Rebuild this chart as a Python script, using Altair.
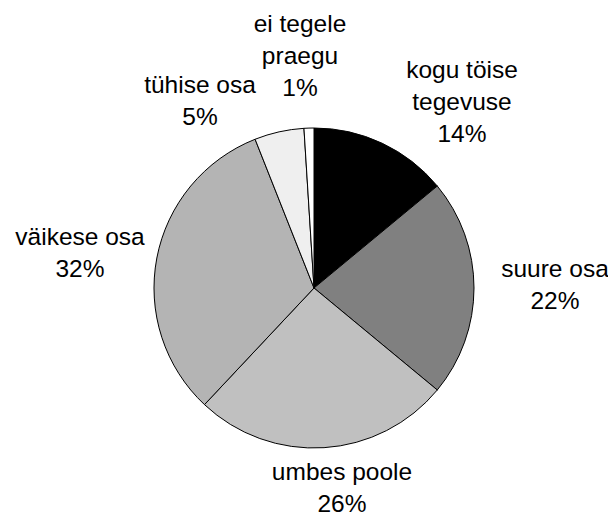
import altair as alt
import pandas as pd

# Data
categories = ["kogu töise tegevuse", "suure osa", "umbes poole",
              "väikese osa", "tühise osa", "ei tegele praegu"]
label_lines = [["kogu töise", "tegevuse"], ["suure osa"], ["umbes poole"],
               ["väikese osa"], ["tühise osa"], ["ei tegele", "praegu"]]
values = [14, 22, 26, 32, 5, 1]
colors = ["#000000", "#808080", "#c0c0c0", "#b4b4b4", "#efefef", "#ffffff"]

# label anchor (chart coords: centre x, first-line baseline y)
label_x = [454, 547, 334, 72, 192, 292]
label_y = [70, 269, 472, 237, 85, 24]

df = pd.DataFrame({
    "cat": categories,
    "value": values,
    "idx": list(range(len(categories))),
})
lab = pd.DataFrame({
    "cat": categories,
    "text": [l + [f"{v}%"] for l, v in zip(label_lines, values)],
    "lx": label_x,
    "ly": label_y,
})

W, H = 600, 510

pie = alt.Chart(df).mark_arc(stroke="black", strokeWidth=1, radius=160).encode(
    theta=alt.Theta("value:Q", stack=True, scale=alt.Scale(range=[0, 6.283185307179586])),
    order=alt.Order("idx:Q"),
    color=alt.Color("cat:N", sort=categories,
                    scale=alt.Scale(domain=categories, range=colors), legend=None),
    x=alt.value(306),
    y=alt.value(280),
)

labels = alt.Chart(lab).mark_text(
    font="Liberation Sans", fontSize=24.5, color="black",
    align="center", baseline="alphabetic", lineHeight=32,
).encode(
    x=alt.X("lx:Q", scale=None),
    y=alt.Y("ly:Q", scale=None),
    text="text",
)

chart = alt.layer(pie, labels).properties(
    width=W, height=H, padding=0, autosize=alt.AutoSizeParams(type="none"),
).configure_view(stroke=None)

chart.save("out.html", embed_options={"renderer": "svg", "actions": False})
